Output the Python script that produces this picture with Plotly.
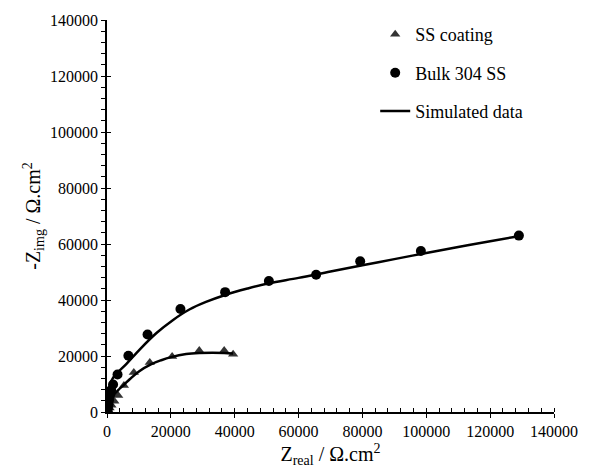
import plotly.graph_objects as go

coat_x = [150, 400, 800, 1400, 2300, 3500, 5300, 8400, 13400, 20400, 28900, 36700, 39500]
coat_y = [250, 700, 1400, 2400, 3800, 5900, 9500, 14100, 17700, 19800, 22000, 22000, 20600]

bulk_x = [150, 300, 450, 650, 900, 1300, 1900, 3300, 6700, 12700, 23000, 37000, 50700, 65500, 79300, 98300, 129000]
bulk_y = [500, 1500, 2800, 4300, 6000, 7800, 9800, 13400, 20100, 27700, 36800, 42800, 46800, 49000, 53800, 57500, 63000]

# Simulated curves
sim_bulk_x = [0, 150, 400, 900, 1800, 3000, 6100, 10300, 15500, 20600, 25800, 31000, 37000, 44000, 50700, 60000, 70000, 80000, 90000, 100000, 110000, 120000, 129000]
sim_bulk_y = [0, 3000, 6500, 9800, 12000, 13700, 17200, 22400, 28200, 32800, 36600, 39300, 41800, 44100, 46000, 47900, 50200, 52400, 54600, 56800, 58900, 61000, 62800]

sim_coat_x = [0, 300, 900, 2000, 3500, 5300, 7200, 10000, 13900, 17000, 20100, 24800, 28900, 33000, 36700, 39500]
sim_coat_y = [0, 1500, 3500, 5800, 7800, 9700, 11800, 14500, 17100, 18500, 19600, 20700, 21100, 21200, 21100, 20900]

tick_vals = [0, 20000, 40000, 60000, 80000, 100000, 120000, 140000]
tick_text = ["0", "20000", "40000", "60000", "80000", "100000", "120000", "140000"]

FONT = "Times New Roman, Liberation Serif, serif"

fig = go.Figure()
fig.add_trace(go.Scatter(x=coat_x, y=coat_y, mode="markers", name="SS coating",
                         legendgroup="a",
                         marker=dict(symbol="triangle-up", size=9, color="#333333")))
fig.add_trace(go.Scatter(x=bulk_x, y=bulk_y, mode="markers", name="Bulk 304 SS",
                         legendgroup="b",
                         marker=dict(symbol="circle", size=10, color="#000000")))
fig.add_trace(go.Scatter(x=sim_bulk_x, y=sim_bulk_y, mode="lines", name="Simulated data",
                         legendgroup="c", line=dict(color="#000000", width=2.5, shape="spline")))
fig.add_trace(go.Scatter(x=sim_coat_x, y=sim_coat_y, mode="lines", name="Simulated data",
                         legendgroup="c", showlegend=False,
                         line=dict(color="#000000", width=2.5, shape="spline")))
# dummy trace to activate overlay axes (for crossing major ticks)
fig.add_trace(go.Scatter(x=[None], y=[None], xaxis="x2", yaxis="y2", showlegend=False,
                         hoverinfo="skip"))

axis_common = dict(range=[0, 140000], tickvals=tick_vals, ticktext=tick_text,
                   showgrid=False, zeroline=False, showline=True, linecolor="black",
                   linewidth=1.5, tickcolor="black", tickwidth=1.2,
                   tickfont=dict(family=FONT, size=16, color="black"))

fig.update_layout(
    width=590, height=474,
    margin=dict(l=107, r=33, t=17, b=61),
    paper_bgcolor="white", plot_bgcolor="white",
    font=dict(family=FONT, color="black"),
    showlegend=True,
    legend=dict(x=0.60, y=1.01, xanchor="left", yanchor="top",
                font=dict(family=FONT, size=18, color="black"),
                tracegroupgap=12, bgcolor="rgba(0,0,0,0)"),
    xaxis=dict(**axis_common, ticks="outside", ticklen=4,
               minor=dict(dtick=4000, ticks="inside", ticklen=4, tickcolor="black", tickwidth=1),
               title=dict(text="Z<sub>real</sub> / Ω.cm<sup>2</sup>", standoff=8,
                          font=dict(family=FONT, size=20, color="black"))),
    yaxis=dict(**axis_common, ticks="outside", ticklen=4,
               minor=dict(dtick=4000, ticks="outside", ticklen=4, tickcolor="black", tickwidth=1),
               title=dict(text="-Z<sub>img</sub> / Ω.cm<sup>2</sup>", standoff=4,
                          font=dict(family=FONT, size=20, color="black"))),
    xaxis2=dict(range=[0, 140000], overlaying="x", anchor="y2", side="bottom",
                tickvals=tick_vals, ticks="inside", ticklen=4, tickcolor="black", tickwidth=1.2,
                showticklabels=False, showgrid=False, zeroline=False, showline=False),
    yaxis2=dict(range=[0, 140000], overlaying="y", anchor="x2", side="left",
                tickvals=tick_vals, ticks="inside", ticklen=4, tickcolor="black", tickwidth=1.2,
                showticklabels=False, showgrid=False, zeroline=False, showline=False),
)

fig.write_html("out.html", config={"displayModeBar": False},
               post_script="document.body.style.margin='0';")
